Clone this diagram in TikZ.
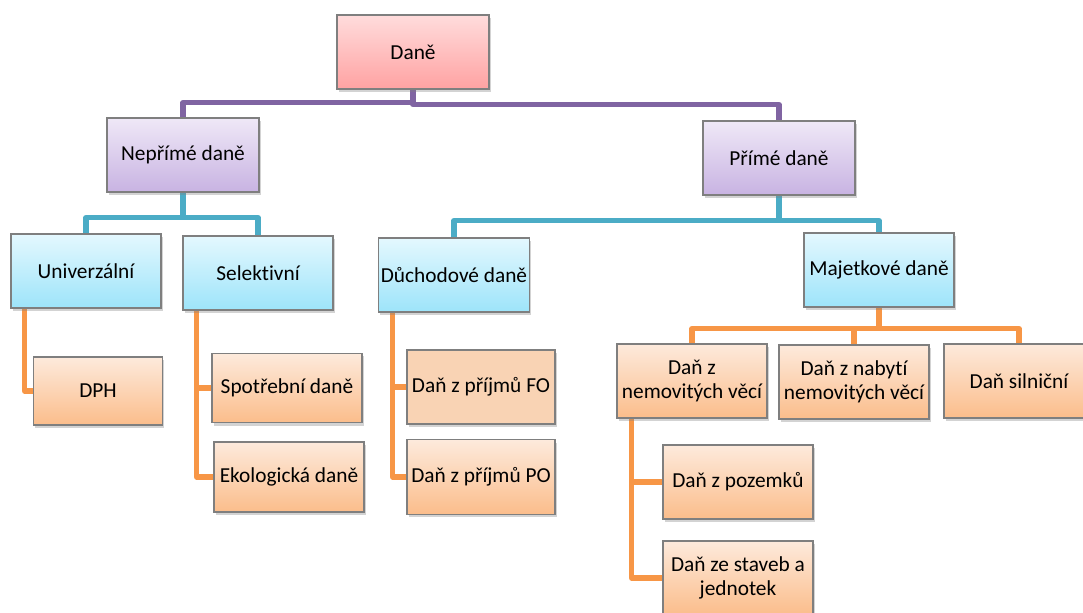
\documentclass[tikz,border=0pt]{standalone}
\usepackage{fontspec}
\setmainfont{Carlito}[Ligatures=NoCommon]
\usetikzlibrary{shadows,calc,backgrounds}
\definecolor{pinkT}{HTML}{FFDCDC}
\definecolor{pinkB}{HTML}{FFA2A2}
\definecolor{purT}{HTML}{EFE8F7}
\definecolor{purB}{HTML}{C8B3E2}
\definecolor{cyaT}{HTML}{E4F8FE}
\definecolor{cyaB}{HTML}{9DE4FA}
\definecolor{oraT}{HTML}{FDEADC}
\definecolor{oraB}{HTML}{FBBD8B}
\definecolor{oraF}{HTML}{F9D3B4}
\definecolor{lnP}{HTML}{8064A2}
\definecolor{lnC}{HTML}{4BACC6}
\definecolor{lnO}{HTML}{F79646}
\definecolor{bord}{HTML}{7F7F7F}
\tikzset{
  box/.style={draw=bord, line width=0.8pt, minimum width=112.5pt, minimum height=55.5pt,
    inner sep=2pt, align=center, font=\fontsize{16}{18}\selectfont,
    drop shadow={opacity=0.35, shadow xshift=1.2pt, shadow yshift=-2.2pt}},
  pinkbox/.style={box, top color=pinkT, bottom color=pinkB},
  purbox/.style={box, top color=purT, bottom color=purB},
  cyabox/.style={box, top color=cyaT, bottom color=cyaB},
  orabox/.style={box, top color=oraT, bottom color=oraB},
  conn/.style={line width=3.8pt, line join=round},
  pline/.style={conn, draw=lnP},
  cline/.style={conn, draw=lnC},
  oline/.style={conn, draw=lnO},
}
\begin{document}
\begin{tikzpicture}[x=0.75pt, y=-0.75pt]
\useasboundingbox (0,0) rectangle (1083,612);
\path (413,52) node[pinkbox, minimum width=114pt] (dane) {Daně};
\path (183,155) node[purbox, minimum width=114pt] (neprime) {Nepřímé daně};
\path (779,158) node[purbox, minimum width=114pt] (prime) {Přímé daně};
\path (86,271) node[cyabox] (univ) {Univerzální};
\path (258,273) node[cyabox] (selekt) {Selektivní};
\path (454,275) node[cyabox] (duch) {Důchodové daně};
\path (879,270) node[cyabox] (majet) {Majetkové daně};
\path (98,391) node[orabox, minimum width=96.75pt, minimum height=51pt] (dph) {DPH};
\path (287,388) node[orabox, minimum height=52pt] (spotr) {Spotřební daně};
\path (289,477) node[orabox, minimum height=52.5pt] (ekol) {Ekologická daně};
\path (481,387) node[box, fill=oraF, minimum width=111pt] (fo) {Daň z příjmů FO};
\path (481,477) node[orabox, minimum width=111pt, minimum height=56pt] (po) {Daň z příjmů PO};
\path (692,381) node[orabox] (nem) {Daň z\\nemovitých věcí};
\path (854,382) node[orabox] (nabyti) {Daň z nabytí\\nemovitých věcí};
\path (1019,381) node[orabox] (siln) {Daň silniční};
\path (738,482) node[orabox] (pozem) {Daň z pozemků};
\path (738,578) node[orabox] (staveb) {Daň ze staveb a\\jednotek};
\begin{pgfonlayer}{background}
\draw[pline] (dane.south) -- ++(0,13) -| (neprime.north);
\draw[pline] (dane.south) -- ++(0,15) -| (prime.north);
\draw[cline] (neprime.south) -- ++(0,25) -| (univ.north);
\draw[cline] (neprime.south) -- ++(0,25) -| (selekt.north);
\draw[cline] (prime.south) -- ++(0,25) -| (duch.north);
\draw[cline] (prime.south) -- ++(0,25) -| (majet.north);
\draw[oline] (majet.south) -- ++(0,21) -| (nem.north);
\draw[oline] (majet.south) -- ++(0,21) -| (nabyti.north);
\draw[oline] (majet.south) -- ++(0,21) -| (siln.north);
\draw[oline] ($(univ.south west)+(14,0)$) |- (dph.west);
\draw[oline] ($(selekt.south west)+(14,0)$) |- (spotr.west);
\draw[oline] ($(selekt.south west)+(14,0)$) |- (ekol.west);
\draw[oline] ($(duch.south west)+(15,0)$) |- (fo.west);
\draw[oline] ($(duch.south west)+(15,0)$) |- (po.west);
\draw[oline] ($(nem.south west)+(15,0)$) |- (pozem.west);
\draw[oline] ($(nem.south west)+(15,0)$) |- (staveb.west);
\end{pgfonlayer}
\end{tikzpicture}
\end{document}
